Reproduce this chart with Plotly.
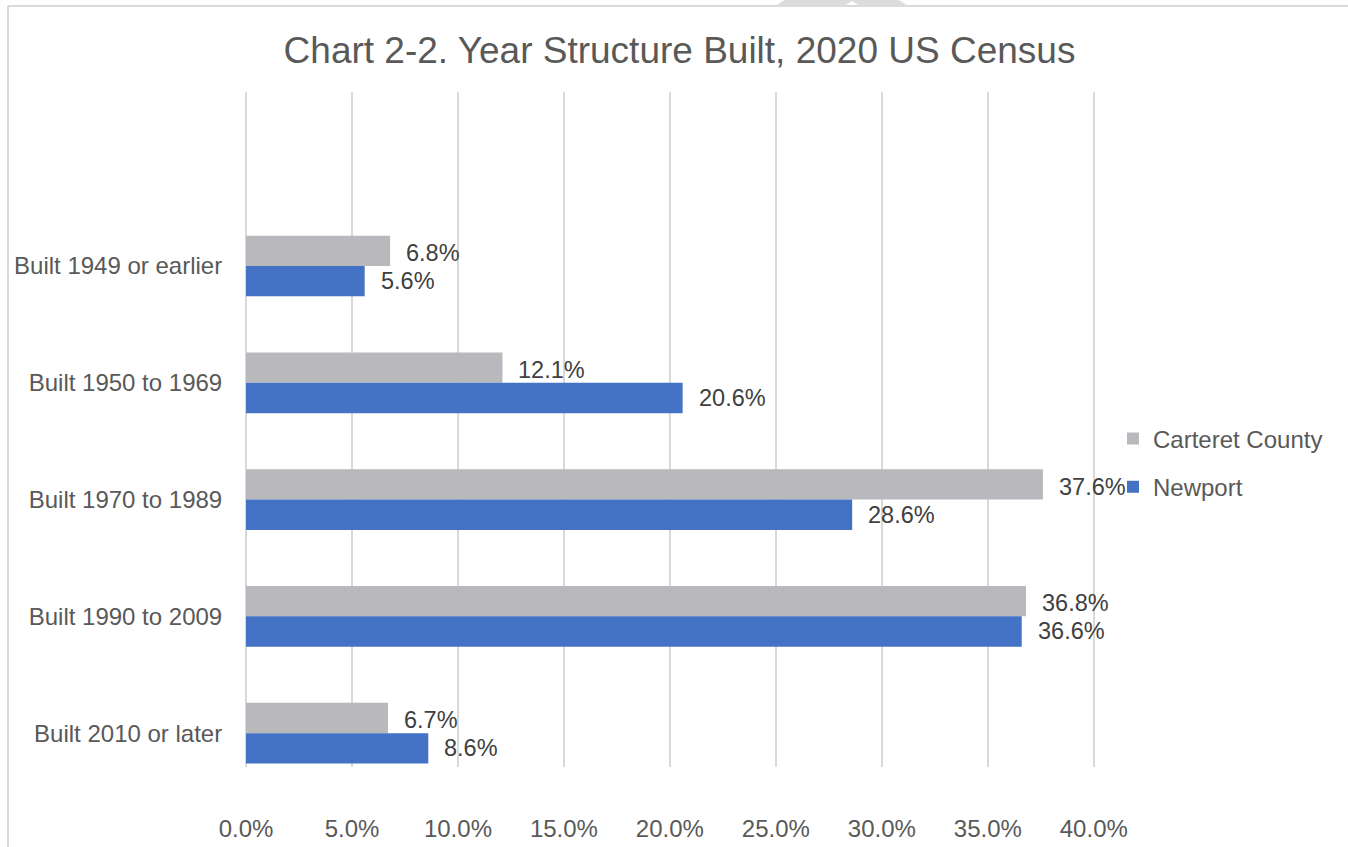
import plotly.graph_objects as go

categories = ["Built 1949 or earlier", "Built 1950 to 1969", "Built 1970 to 1989",
              "Built 1990 to 2009", "Built 2010 or later"]
carteret = [0.068, 0.121, 0.376, 0.368, 0.067]
newport = [0.056, 0.206, 0.286, 0.366, 0.086]
series_names = ["Carteret County", "Newport"]
colors = ["#B9B9BD", "#4472C4"]
title_text = "Chart 2-2. Year Structure Built, 2020 US Census"

W, H = 1348, 847
XMAX = 0.41
ML, MT, MB = 246, 92, 80
MR = int(round(W - ML - 848 * XMAX / 0.4))
FONT = "Liberation Sans, Arial, sans-serif"

fig = go.Figure()
for name, vals, col in zip(series_names, [carteret, newport], colors):
    fig.add_trace(go.Bar(
        y=categories, x=vals, name=name, orientation="h",
        marker=dict(color=col, line=dict(width=0)),
        legendgroup=name, hoverinfo="x+y",
    ))

annotations = []
for vals, shift in [(carteret, 13), (newport, -15)]:
    for c, v in zip(categories, vals):
        annotations.append(dict(
            x=v, y=c, xref="x", yref="y", text=f"{v*100:.1f}%",
            showarrow=False, xanchor="left", yanchor="middle",
            xshift=14, yshift=shift,
            font=dict(family=FONT, size=23.5, color="#404040"),
        ))

pw = W - ML - MR
ph = H - MT - MB
def px_x(p):
    return (p - ML) / pw
def px_y(p):
    return (H - MB - p) / ph

shapes = [
    dict(type="line", xref="paper", yref="paper", x0=px_x(8), x1=px_x(W + 5),
         y0=px_y(6), y1=px_y(6), line=dict(color="#D9D9D9", width=2)),
    dict(type="line", xref="paper", yref="paper", x0=px_x(8), x1=px_x(8),
         y0=px_y(6), y1=px_y(H + 5), line=dict(color="#D9D9D9", width=2)),
    dict(type="path", xref="paper", yref="paper",
         path=(f"M{px_x(774)},{px_y(7)} L{px_x(786)},{px_y(-1)} L{px_x(897)},{px_y(-1)} "
               f"L{px_x(910)},{px_y(7)} L{px_x(861)},{px_y(7)} L{px_x(852)},{px_y(1)} "
               f"L{px_x(843)},{px_y(7)} Z"),
         fillcolor="#DCDCDC", line=dict(width=0)),
]

fig.update_layout(
    width=W, height=H,
    margin=dict(l=ML, r=MR, t=MT, b=MB, autoexpand=False),
    paper_bgcolor="white", plot_bgcolor="white",
    barmode="group", bargap=0.48, bargroupgap=0,
    font=dict(family=FONT, size=24, color="#595959"),
    title=dict(text=title_text, x=679.5 / W, xref="container", xanchor="center",
               y=1 - 50 / H, yref="container", yanchor="middle",
               font=dict(family=FONT, size=37, color="#595959")),
    xaxis=dict(range=[0, XMAX], tickvals=[i * 0.05 for i in range(9)], tickformat=".1%",
               showgrid=True, gridcolor="#D9D9D9", gridwidth=2,
               zeroline=True, zerolinecolor="#D9D9D9", zerolinewidth=2,
               showline=False, ticks="outside", ticklen=40,
               tickcolor="rgba(0,0,0,0)",
               tickfont=dict(family=FONT, size=24, color="#595959")),
    yaxis=dict(type="category", categoryorder="array", categoryarray=categories,
               range=[4.29, -1.49], showgrid=False, zeroline=False, showline=False,
               ticks="outside", ticklen=18, tickcolor="rgba(0,0,0,0)",
               tickfont=dict(family=FONT, size=24, color="#595959")),
    legend=dict(x=px_x(1113), xanchor="left", y=px_y(463), yanchor="middle",
                traceorder="grouped", tracegroupgap=14,
                font=dict(family=FONT, size=24, color="#595959"),
                bgcolor="rgba(0,0,0,0)"),
    annotations=annotations,
    shapes=shapes,
    showlegend=True,
)

fig.write_html("out.html", config={"displayModeBar": False},
               post_script="document.body.style.margin='0';document.body.style.overflow='hidden';")
